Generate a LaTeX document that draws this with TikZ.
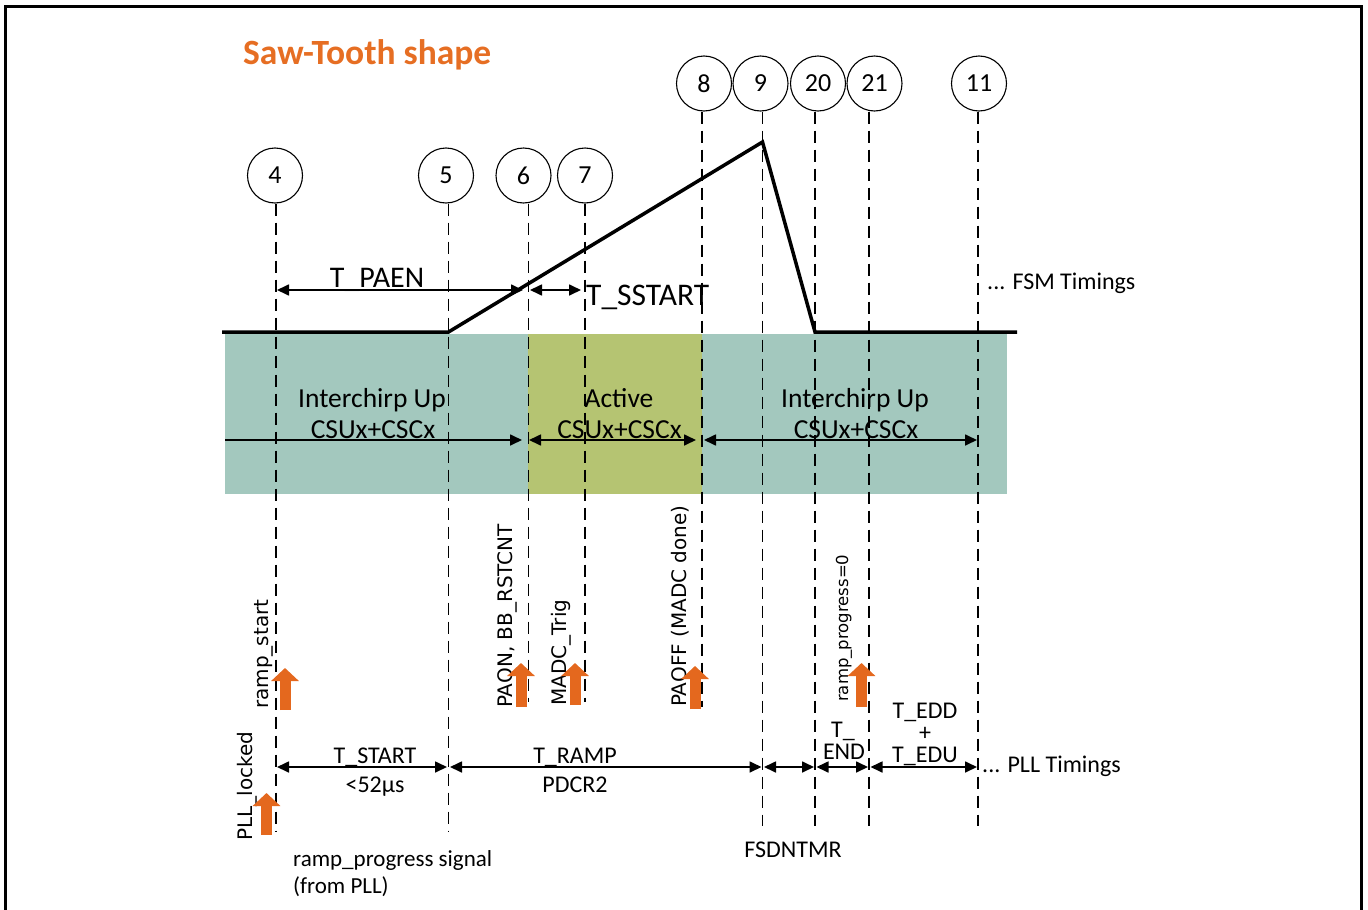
\documentclass[tikz,border=0pt]{standalone}
\usepackage{fontspec}
\setmainfont{Carlito}
\newfontfamily\dvfont{DejaVu Sans}
\usetikzlibrary{arrows.meta}
\definecolor{tealbg}{RGB}{163,200,190}
\definecolor{olivebg}{RGB}{181,196,114}
\definecolor{orng}{RGB}{228,104,30}
\definecolor{ttlc}{RGB}{230,110,35}
\newcommand\fsz[2]{\fontsize{#1}{#2}\selectfont}
\begin{document}
\begin{tikzpicture}[x=1pt,y=-1pt,
  dline/.style={line width=1.8pt, dash pattern=on 12pt off 7pt},
  rampline/.style={line width=3.5pt, line join=miter},
  circ/.style={draw, circle, line width=1.1pt, minimum size=55pt, inner sep=0pt, font=\fsz{26}{30}},
  tarr/.style={line width=1.7pt, {Triangle[length=12pt,width=11pt]}-{Triangle[length=12pt,width=11pt]}},
  rarr/.style={line width=1.7pt, -{Triangle[length=12pt,width=11pt]}},
  oarr/.style={draw=orng, line width=11pt, -{Triangle[length=13pt,width=27pt]}},
  lbl/.style={inner sep=0pt, font=\fsz{24}{28}},
  big/.style={inner sep=0pt, font=\fsz{27.5}{31}},
  rot/.style={inner sep=0pt, rotate=90, anchor=base west, font=\dvfont\fsz{20}{24}},
]
\useasboundingbox (0,0) rectangle (1368,910);
% frame
\draw[line width=3pt] (5,915) -- (5,6) -- (1361,6) -- (1361,915);

% title
\node[inner sep=0pt, anchor=base west, text=ttlc, font=\bfseries\fsz{35.5}{40}] (title) at (243,64) {Saw-Tooth shape};

% background regions
\fill[tealbg] (225,334) rectangle (1007,494);
\fill[olivebg] (528,334) rectangle (702,494);

% event circles
\node[circ] (c4) at (275,175.5) {4};
\node[circ] (c5) at (446,175.5) {5};
\node[circ] (c6) at (523.5,175.5) {6};
\node[circ] (c7) at (585,175.5) {7};
\node[circ] (c8) at (704,83.5) {8};
\node[circ] (c9) at (760.5,83.5) {9};
\node[circ] (c20) at (818,83.5) {20};
\node[circ] (c21) at (874.5,83.5) {21};
\node[circ] (c11) at (979,83.5) {11};

% line ends
\coordinate (b4) at (276,832);
\coordinate (b5) at (448.5,832);
\coordinate (b6) at (528.5,702);
\coordinate (b7) at (585,702);
\coordinate (b8) at (702,707);
\coordinate (b9) at (762.5,826);
\coordinate (b20) at (815,826);
\coordinate (b21) at (869,826);
\coordinate (b11) at (978,826);
\foreach \n in {4,5,6,7,8,9,20,21,11}{
  \draw[dline] (c\n.south -| b\n) -- (b\n);
}

% saw-tooth
\coordinate (r0) at (222,332);
\coordinate (r1) at (448.5,332);
\coordinate (r2) at (762.5,142);
\coordinate (r3) at (815,332);
\coordinate (r4) at (1017,332);
\draw[rampline] (r0) -- (r1) -- (r2) -- (r3) -- (r4);

% FSM timings
\coordinate (f4) at (277,290);
\coordinate (f6) at (523,290);
\coordinate (f6b) at (530,290);
\coordinate (f7) at (581,290);
\draw[tarr] (f4) -- (f6);
\draw[tarr] (f6b) -- (f7);
\node[inner sep=0pt, anchor=base, font=\fsz{30}{34}] (tpaen) at (377,287) {T\_PAEN};
\node[inner sep=0pt, anchor=base west, font=\fsz{31.5}{34}] (tsstart) at (586,305) {T\_SSTART};
\node[lbl, anchor=base west] (fsm) at (987,289) {... FSM Timings};

% phase arrows
\coordinate (a0) at (225,440);
\coordinate (a1) at (522,440);
\coordinate (a2) at (529,440);
\coordinate (a3) at (696,440);
\coordinate (a4) at (704,440);
\coordinate (a5) at (977,440);
\draw[rarr] (a0) -- (a1);
\draw[tarr] (a2) -- (a3);
\draw[tarr] (a4) -- (a5);
\node[big, anchor=base] (ic1) at (372,407) {Interchirp Up};
\node[big, anchor=base] (cs1) at (373,438) {CSUx+CSCx};
\node[big, anchor=base] (act) at (619,407) {Active};
\node[big, anchor=base] (cs2) at (619.5,438) {CSUx+CSCx};
\node[big, anchor=base] (ic2) at (855,407) {Interchirp Up};
\node[big, anchor=base] (cs3) at (856,438) {CSUx+CSCx};

% rotated event labels
\node[rot] (lrs) at (268,709) {ramp\_start};
\node[rot] (lpll) at (252,841) {PLL\_locked};
\node[rot] (lpaon) at (512,708) {PAON, BB\_RSTCNT};
\node[rot] (lmadc) at (566,706) {MADC\_Trig};
\node[rot] (lpaoff) at (686,707) {PAOFF (MADC done)};
\node[rot, font=\dvfont\fsz{16.5}{20}] (lrp) at (848,702) {ramp\_progress=0};

% orange event markers
\draw[oarr] (285,710) -- (285,668);
\draw[oarr] (266.5,835) -- (266.5,793);
\draw[oarr] (521,707) -- (521,663);
\draw[oarr] (575,705) -- (575,663);
\draw[oarr] (695,709) -- (695,666);
\draw[oarr] (861.5,707) -- (861.5,663);

% PLL timings
\coordinate (p4) at (277,767);
\coordinate (p5a) at (447,767);
\coordinate (p5b) at (450,767);
\coordinate (p9a) at (761.5,767);
\coordinate (p9b) at (764,767);
\coordinate (p20a) at (814,767);
\coordinate (p20b) at (816.5,767);
\coordinate (p21a) at (868,767);
\coordinate (p21b) at (870.5,767);
\coordinate (p11) at (977,767);
\draw[tarr] (p4) -- (p5a);
\draw[tarr] (p5b) -- (p9a);
\draw[tarr] (p9b) -- (p20a);
\draw[tarr] (p20b) -- (p21a);
\draw[tarr] (p21b) -- (p11);
\node[lbl, anchor=base] (tstart) at (375,763) {T\_START};
\node[lbl, anchor=base] (t52) at (375,792) {<52µs};
\node[lbl, anchor=base] (tramp) at (575,763) {T\_RAMP};
\node[lbl, anchor=base] (pdcr) at (575,792) {PDCR2};
\node[lbl, anchor=base] (tend1) at (843,737) {T\_};
\node[lbl, anchor=base] (tend2) at (844,759) {END};
\node[lbl, anchor=base] (tedd) at (925,718) {T\_EDD};
\node[lbl, anchor=base] (tplus) at (925,740) {+};
\node[lbl, anchor=base] (tedu) at (925,762) {T\_EDU};
\node[lbl, anchor=base west] (pll) at (982,772) {... PLL Timings};
\node[lbl, anchor=base] (fsd) at (793,857) {FSDNTMR};
\node[lbl, anchor=base west, font=\fsz{23}{26}] (rps) at (293,866) {ramp\_progress signal};
\node[lbl, anchor=base west, font=\fsz{23}{26}] (fpll) at (293,893) {(from PLL)};
\end{tikzpicture}
\end{document}
